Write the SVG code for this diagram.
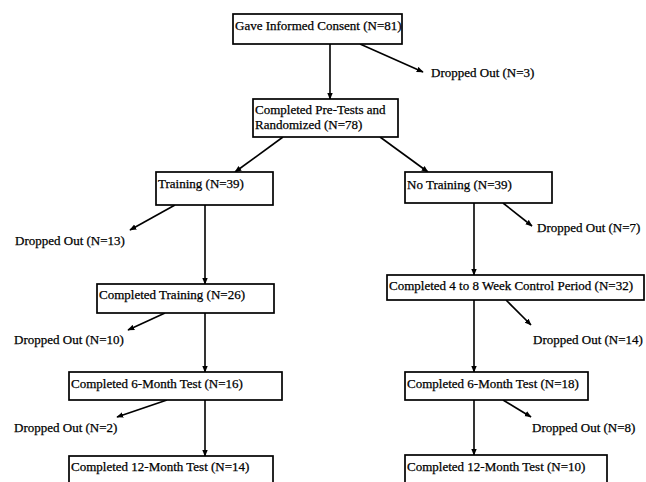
<svg xmlns="http://www.w3.org/2000/svg" width="646" height="482" viewBox="0 0 646 482">
<defs>
<marker id="ah" viewBox="0 0 10 10" refX="9" refY="5" markerWidth="7" markerHeight="7" orient="auto" markerUnits="userSpaceOnUse">
<path d="M0,1 L10,5 L0,9 Z" fill="#000"/>
</marker>
<style>
.box{fill:#fff;stroke:#000;stroke-width:1.7}
.t{font-family:"Liberation Serif","Times New Roman",serif;font-size:13px;fill:#000;stroke:#000;stroke-width:0.25}
.c{stroke:#000;stroke-width:1.6;fill:none;marker-end:url(#ah)}
</style>
</defs>
<rect width="646" height="482" fill="#fff"/>
<g id="connectors">
<line class="c" x1="330" y1="44" x2="330" y2="99"/>
<line class="c" x1="360" y1="44" x2="423" y2="72"/>
<line class="c" x1="283" y1="137" x2="235" y2="172"/>
<line class="c" x1="380" y1="137" x2="428" y2="172"/>
<line class="c" x1="175" y1="205" x2="130" y2="230"/>
<line class="c" x1="205" y1="205" x2="205" y2="284"/>
<line class="c" x1="165" y1="313" x2="128" y2="330"/>
<line class="c" x1="205" y1="313" x2="205" y2="372"/>
<line class="c" x1="167" y1="400" x2="117" y2="417"/>
<line class="c" x1="205" y1="400" x2="205" y2="456"/>
<line class="c" x1="503" y1="203" x2="532" y2="226"/>
<line class="c" x1="474" y1="203" x2="474" y2="275"/>
<line class="c" x1="506" y1="300" x2="531" y2="325"/>
<line class="c" x1="474" y1="300" x2="474" y2="372"/>
<line class="c" x1="503" y1="400" x2="531" y2="417"/>
<line class="c" x1="474" y1="400" x2="474" y2="455"/>
</g>
<g id="consent"><rect class="box" x="233" y="14" width="169" height="30"/><text class="t" x="235" y="30">Gave Informed Consent (N=81)</text></g>
<g id="drop3"><text class="t" x="431" y="77">Dropped Out (N=3)</text></g>
<g id="pretests"><rect class="box" x="253" y="99" width="145" height="38"/><text class="t" x="255" y="114">Completed Pre-Tests and</text><text class="t" x="255" y="129">Randomized (N=78)</text></g>
<g id="training"><rect class="box" x="156" y="172" width="117" height="33"/><text class="t" x="158" y="188">Training (N=39)</text></g>
<g id="notraining"><rect class="box" x="405" y="172" width="147" height="31"/><text class="t" x="407" y="189">No Training (N=39)</text></g>
<g id="drop13"><text class="t" x="15" y="245">Dropped Out (N=13)</text></g>
<g id="drop7"><text class="t" x="537" y="232">Dropped Out (N=7)</text></g>
<g id="comptraining"><rect class="box" x="97" y="284" width="177" height="29"/><text class="t" x="99" y="299">Completed Training (N=26)</text></g>
<g id="control"><rect class="box" x="387" y="275" width="257" height="25"/><text class="t" x="389" y="290">Completed 4 to 8 Week Control Period (N=32)</text></g>
<g id="drop10"><text class="t" x="14" y="344">Dropped Out (N=10)</text></g>
<g id="drop14"><text class="t" x="533" y="344">Dropped Out (N=14)</text></g>
<g id="six1"><rect class="box" x="69" y="372" width="213" height="28"/><text class="t" x="71" y="388">Completed 6-Month Test (N=16)</text></g>
<g id="six2"><rect class="box" x="405" y="372" width="183" height="28"/><text class="t" x="407" y="388">Completed 6-Month Test (N=18)</text></g>
<g id="drop2"><text class="t" x="14" y="432">Dropped Out (N=2)</text></g>
<g id="drop8"><text class="t" x="532" y="432">Dropped Out (N=8)</text></g>
<g id="twelve1"><rect class="box" x="69" y="456" width="204" height="34"/><text class="t" x="71" y="471">Completed 12-Month Test (N=14)</text></g>
<g id="twelve2"><rect class="box" x="405" y="455" width="202" height="35"/><text class="t" x="407" y="471">Completed 12-Month Test (N=10)</text></g>
</svg>
